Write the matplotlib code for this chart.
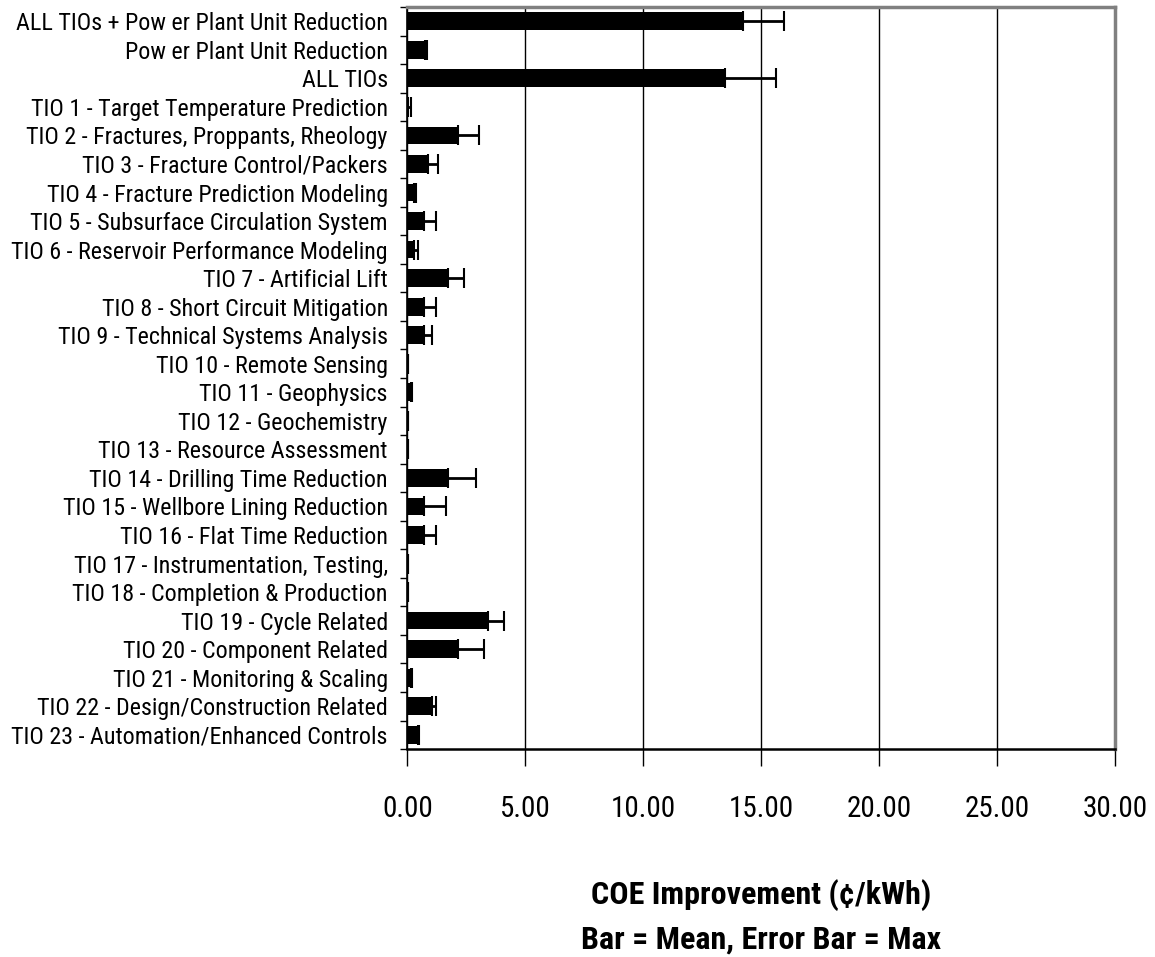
import numpy as np
import matplotlib.pyplot as plt
from matplotlib import font_manager

# Data (top to bottom as in the chart)
labels = [
    'ALL TIOs + Pow er Plant Unit Reduction',
    'Pow er Plant Unit Reduction',
    'ALL TIOs',
    'TIO 1 - Target Temperature Prediction',
    'TIO 2 - Fractures, Proppants, Rheology',
    'TIO 3 - Fracture Control/Packers',
    'TIO 4 - Fracture Prediction Modeling',
    'TIO 5 - Subsurface Circulation System',
    'TIO 6 - Reservoir Performance Modeling',
    'TIO 7 - Artificial Lift',
    'TIO 8 - Short Circuit Mitigation',
    'TIO 9 - Technical Systems Analysis',
    'TIO 10 - Remote Sensing',
    'TIO 11 - Geophysics',
    'TIO 12 - Geochemistry',
    'TIO 13 - Resource Assessment',
    'TIO 14 - Drilling Time Reduction',
    'TIO 15 - Wellbore Lining Reduction',
    'TIO 16 - Flat Time Reduction',
    'TIO 17 - Instrumentation, Testing,',
    'TIO 18 - Completion & Production',
    'TIO 19 - Cycle Related',
    'TIO 20 - Component Related',
    'TIO 21 - Monitoring & Scaling',
    'TIO 22 - Design/Construction Related',
    'TIO 23 - Automation/Enhanced Controls',
]
mean_vals = [14.24, 0.75, 13.48, 0.05, 2.16, 0.89, 0.30, 0.70, 0.30, 1.74,
             0.70, 0.70, 0.02, 0.15, 0.02, 0.02, 1.74, 0.70, 0.70, 0.02,
             0.02, 3.43, 2.16, 0.18, 1.04, 0.46]
max_vals = [15.97, 0.82, 15.63, 0.18, 3.05, 1.31, 0.35, 1.21, 0.44, 2.40,
            1.21, 1.07, 0.05, 0.22, 0.05, 0.05, 2.90, 1.64, 1.21, 0.05,
            0.05, 4.08, 3.25, 0.22, 1.21, 0.50]

# look for a narrow / condensed face, otherwise plain Liberation Sans
fam, stretch = 'Liberation Sans', 'normal'
fonts = font_manager.fontManager.ttflist
for pref in ['Liberation Sans Narrow', 'Arial Narrow', 'Roboto Condensed',
             'DejaVu Sans']:
    hit = [f for f in fonts if f.name == pref and
           ('Narrow' in pref or 'Condensed' in pref or
            str(f.stretch) in ('condensed', 'semi-condensed', 'extra-condensed'))]
    if hit:
        fam = pref
        if pref == 'DejaVu Sans':
            stretch = 'condensed'
        break
plt.rcParams['font.family'] = [fam, 'DejaVu Sans']
plt.rcParams['font.stretch'] = stretch

mean_arr = np.array(mean_vals)
max_arr = np.array(max_vals)
y = np.arange(len(labels))

fig = plt.figure(figsize=(11.55, 9.57), dpi=100)
ax = fig.add_axes([0.3526, 0.2173, 0.6128, 0.7754])

# size the category labels so the longest one fits the space on the left
renderer = fig.canvas.get_renderer()
probe = fig.text(0, 0, labels[0], fontsize=18)
w = probe.get_window_extent(renderer).width
probe.remove()
ysize = min(19, 18 * 372 / w)

ax.barh(y, mean_arr, height=0.62, color='black', zorder=3)
ax.errorbar(mean_arr, y, xerr=[np.zeros_like(mean_arr), max_arr - mean_arr],
            fmt='none', ecolor='black', elinewidth=2, capsize=7, capthick=1.5,
            zorder=4)

ax.set_xlim(0, 30)
ax.set_ylim(len(labels) - 0.5, -0.5)
ax.set_xticks(np.arange(0, 31, 5))
ax.set_xticklabels([f'{v:.2f}' for v in np.arange(0, 31, 5)], fontsize=21)
ax.set_yticks(y)
ax.set_yticklabels(labels, fontsize=ysize)
ax.set_yticks(np.arange(-0.5, len(labels), 1), minor=True)
ax.tick_params(axis='y', which='major', length=0, pad=14)
ax.tick_params(axis='y', which='minor', length=5, width=1, direction='out')
ax.tick_params(axis='x', length=12, width=1, direction='out', pad=21)

ax.grid(axis='x', color='black', linewidth=1, zorder=0)
ax.set_axisbelow(True)

for s in ['top', 'right']:
    ax.spines[s].set_color('#808080')
    ax.spines[s].set_linewidth(2.5)
ax.spines['left'].set_linewidth(1.2)
ax.spines['bottom'].set_linewidth(1.8)

fig.text(0.659, 0.065, 'COE Improvement (\u00a2/kWh)', ha='center', va='center',
         fontsize=23, fontweight='bold')
fig.text(0.659, 0.018, 'Bar = Mean, Error Bar = Max', ha='center', va='center',
         fontsize=23, fontweight='bold')

fig.savefig('out.png', dpi=100)
